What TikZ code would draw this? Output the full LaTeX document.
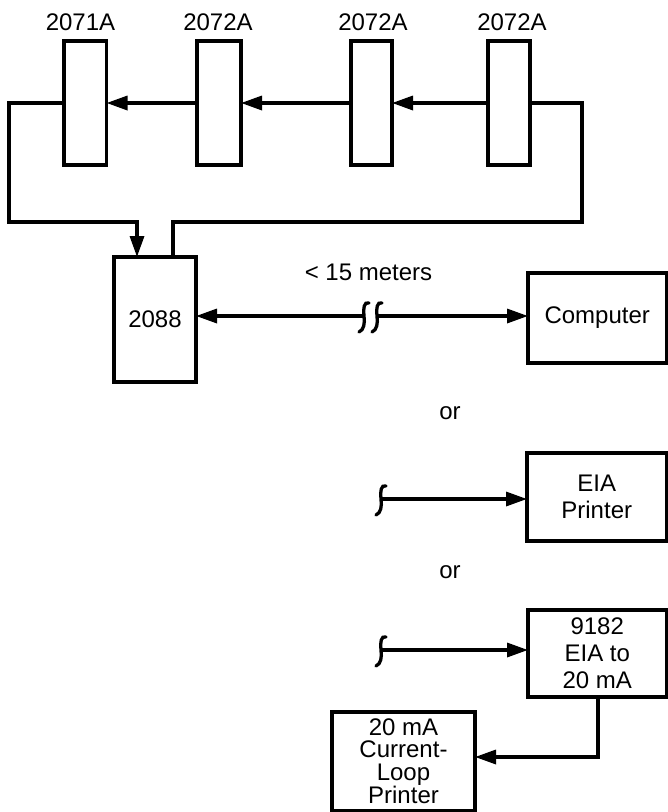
\documentclass[tikz,border=0pt]{standalone}
\usepackage{fontspec}
\setmainfont{Liberation Sans}
\usetikzlibrary{arrows.meta}
\newcommand{\lbl}{\fontsize{24}{27}\selectfont}
\newcommand{\tight}{\fontsize{24}{22.3}\selectfont}

\begin{document}
\begin{tikzpicture}[x=1pt,y=-1pt,line width=3.3pt,
 every node/.style={inner sep=0pt,outer sep=0pt,font=\lbl},
 box/.style={draw,line width=3.3pt,align=center},
 tip/.style={-{Triangle[length=21pt,width=14pt]}},
 cutmark/.pic={\draw[line width=3.3pt,line cap=round] (5,-13) .. controls (0,-15) and (-1,-7) .. (0,0) .. controls (1,7) and (0,14) .. (-5,16);}]
\path[use as bounding box] (0,0) rectangle (668,812);
% ---------- modules
\foreach \n/\xc/\w/\lx/\txt in {1/85.25/42.5/80.5/2071A, 2/219/44/218/2072A, 3/371.5/41/373/2072A, 4/509/42/512/2072A}{
 \node[box,minimum width=\w,minimum height=124] (mod\n) at (\xc,103) {};
 \node (lab\n) at (\lx,22) {\txt};}
\foreach \a/\b in {4/3,3/2,2/1} \draw[tip] (mod\a.west) -- (mod\b.east);
% ---------- hub and loop
\node[box,minimum width=82,minimum height=125] (hub) at (155,319.5) {2088};
\coordinate (loopL) at (9,222);
\coordinate (loopR) at (582,222);
\draw[tip] (mod1.west) -| (loopL) -| ([xshift=-18pt]hub.north);
\draw (mod4.east) -| (loopR) -| ([xshift=18pt]hub.north);
% ---------- computer link
\node[box,minimum width=138.5,minimum height=90] (comp) at (597.25,318) {Computer};
\node (dist) at (368.5,272) {< 15 meters};
\coordinate (cutA) at (364,316);
\coordinate (cutB) at (377,316);
\draw[tip] (cutA) -- (hub.east |- cutA);
\draw[tip] (cutB) -- (comp.west |- cutB);
\pic at (cutA) {cutmark};
\pic at (cutB) {cutmark};
% ---------- alternatives
\node (or1) at (450,413) {or};
\node[box,minimum width=139.5,minimum height=88] (eia) at (596.75,497) {EIA\\Printer};
\coordinate (cutC) at (381,499);
\draw[tip] (cutC) -- (eia.west |- cutC);
\pic at (cutC) {cutmark};
\node (or2) at (450,572) {or};
\node[box,minimum width=138.5,minimum height=87] (conv) at (597.25,653.5) {9182\\EIA to\\20 mA};
\coordinate (cutD) at (381,650);
\draw[tip] (cutD) -- (conv.west |- cutD);
\pic at (cutD) {cutmark};
% ---------- current loop printer
\node[box,minimum width=143,minimum height=98.5,font=\tight] (cloop) at (403.5,761.25) {20 mA\\Current-\\Loop\\Printer};
\coordinate (turn) at (598,757);
\draw[tip] (conv.south -| turn) -- (turn) -- (cloop.east |- turn);
\end{tikzpicture}
\end{document}
